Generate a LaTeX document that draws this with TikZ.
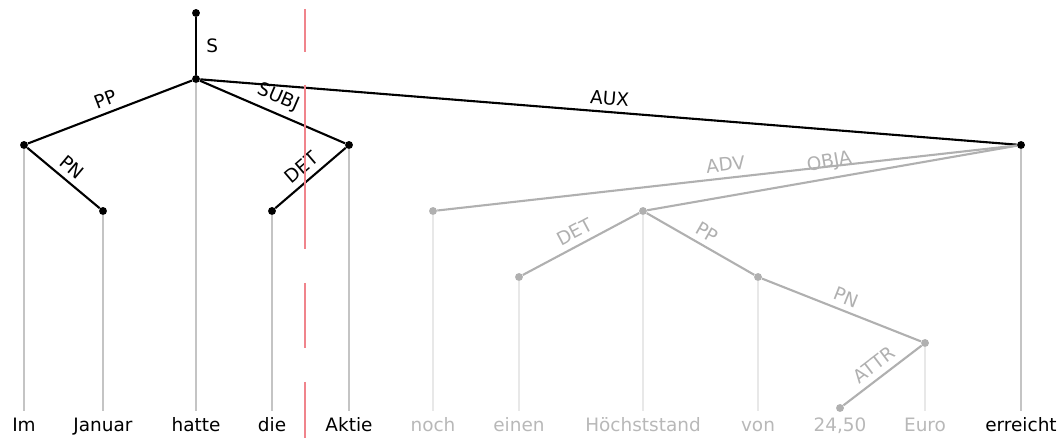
\documentclass[tikz,border=0pt]{standalone}
\usepackage{fontspec}
\setmainfont{DejaVu Sans}
\usepackage{xcolor}
\usepackage{tikz}
\usetikzlibrary{positioning,calc}

\definecolor{wordgray}{HTML}{B8B8B8}
\definecolor{arcgray}{HTML}{B0B0B0}
\definecolor{dropdark}{HTML}{C4C4C4}
\definecolor{droplight}{HTML}{E8E8E8}
\definecolor{cutred}{HTML}{F0848C}

\begin{document}
\begin{tikzpicture}[x=0.02cm, y=-0.02cm,
    word/.style={anchor=base, font=\fontsize{10.5}{12}\selectfont, text height=8pt, text depth=2pt, inner sep=4pt},
    dot/.style={circle, fill=black, inner sep=0pt, minimum size=4.5pt},
    fdot/.style={dot, fill=arcgray},
    arc/.style={line width=1.2pt, black},
    farc/.style={line width=1.2pt, arcgray},
    lab/.style={font=\fontsize{10.5}{12}\selectfont, sloped, above},
    flab/.style={lab, text=arcgray},
    drop/.style={line width=1.2pt, dropdark},
    fdrop/.style={line width=1.2pt, droplight}]
    \useasboundingbox (0,0) rectangle (1059,438);

    % words along the bottom
    \foreach \n/\x/\w/\c in {im/24/Im/black, januar/103/Januar/black, hatte/196/hatte/black,
        die/272/die/black, aktie/349/Aktie/black, noch/433/noch/wordgray, einen/519/einen/wordgray,
        hoechst/643/Höchststand/wordgray, von/758/von/wordgray, zahl/840/{24,50}/wordgray,
        euro/925/Euro/wordgray, erreicht/1021/erreicht/black}
        \node[word, text=\c] (w-\n) at (\x,432) {\w};

    % tree nodes, one row every 66px
    \node[dot] (n-root) at (196,13) {};
    \node[dot] (n-hatte) at (196,79) {};
    \node[dot] (n-im) at (24,145) {};
    \node[dot] (n-aktie) at (349,145) {};
    \node[dot] (n-erreicht) at (1021,145) {};
    \node[dot] (n-januar) at (103,211) {};
    \node[dot] (n-die) at (272,211) {};
    \node[fdot] (n-noch) at (433,211) {};
    \node[fdot] (n-hoechst) at (643,211) {};
    \node[fdot] (n-einen) at (519,277) {};
    \node[fdot] (n-von) at (758,277) {};
    \node[fdot] (n-euro) at (925,343) {};
    \node[fdot] (n-zahl) at (840,408) {};

    % projection lines
    \foreach \n in {im, januar, hatte, die, aktie, erreicht}
        \draw[drop] (n-\n) -- (w-\n.north);
    \foreach \n in {noch, einen, hoechst, von, euro}
        \draw[fdrop] (n-\n) -- (w-\n.north);

    % black arcs
    \draw[arc] (n-root) -- node[right, xshift=2pt, font=\fontsize{10.5}{12}\selectfont] {S} (n-hatte);
    \draw[arc] (n-im) -- node[lab] {PP} (n-hatte);
    \draw[arc] (n-im) -- node[lab] {PN} (n-januar);
    \draw[arc] (n-hatte) -- node[lab] {SUBJ} (n-aktie);
    \draw[arc] (n-die) -- node[lab] {DET} (n-aktie);
    \draw[arc] (n-hatte) -- node[lab] {AUX} (n-erreicht);

    % faded arcs
    \draw[farc] (n-noch) -- node[flab] {ADV} (n-erreicht);
    \draw[farc] (n-hoechst) -- node[flab] {OBJA} (n-erreicht);
    \draw[farc] (n-einen) -- node[flab] {DET} (n-hoechst);
    \draw[farc] (n-hoechst) -- node[flab] {PP} (n-von);
    \draw[farc] (n-von) -- node[flab] {PN} (n-euro);
    \draw[farc] (n-zahl) -- node[flab] {ATTR} (n-euro);

    % cut marker
    \foreach \a/\b in {9/52, 85/249, 283/348, 382/438}
        \draw[cutred, line width=1.2pt] (305,\a) -- (305,\b);
\end{tikzpicture}
\end{document}
